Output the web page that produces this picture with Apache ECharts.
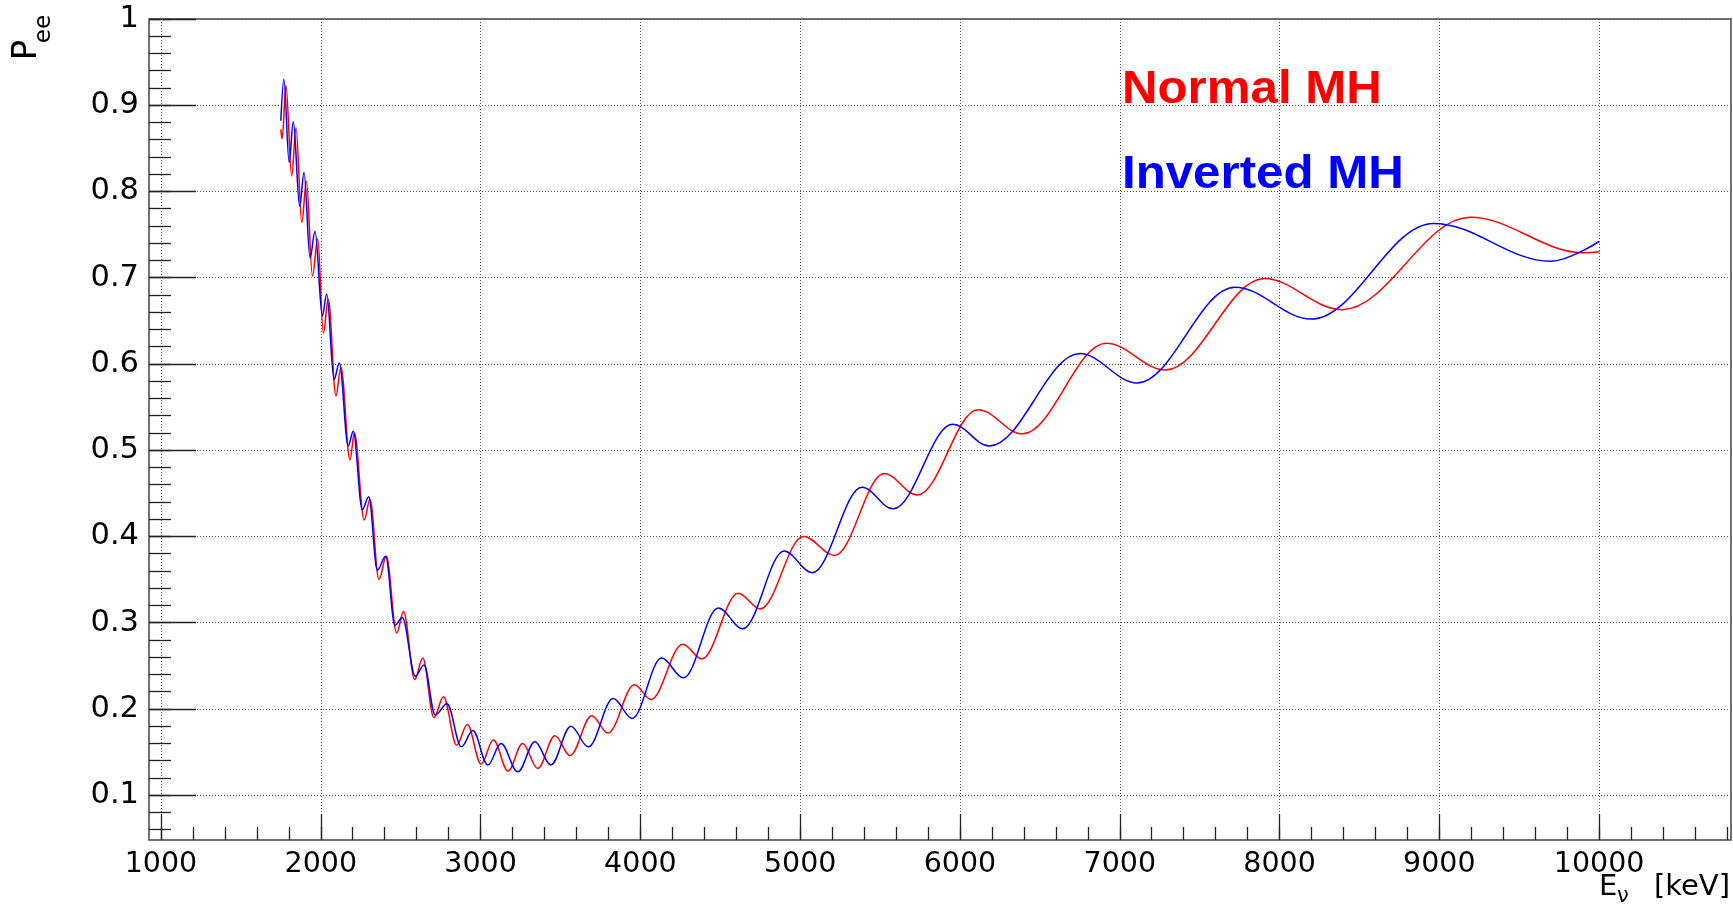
<!DOCTYPE html>
<html>
<head>
<meta charset="utf-8">
<title>Pee vs E</title>
<script src="https://cdn.jsdelivr.net/npm/echarts@6/dist/echarts.min.js"></script>
<style>
  html, body { margin: 0; padding: 0; background: #ffffff; }
  #chart { width: 1733px; height: 916px; }
</style>
</head>
<body>
<div id="chart"></div>
<script>
// Survival probability P_ee versus neutrino energy (keV), read at the
// turning points of each oscillating curve.
const normalE = [1750, 1758, 1782, 1818, 1845, 1881, 1910, 1948, 1981, 2016,
  2047, 2095, 2126, 2183, 2210, 2272, 2308, 2364, 2410, 2475,
  2518, 2588, 2638, 2708, 2768, 2850, 2917, 3003, 3080, 3172,
  3263, 3358, 3465, 3560, 3695, 3797, 3963, 4066, 4265, 4384,
  4613, 4749, 5021, 5215, 5526, 5733, 6113, 6390, 6915, 7285,
  7904, 8389, 9192, 9902, 10000];
const normalP = [0.872, 0.861, 0.923, 0.818, 0.874, 0.764, 0.812, 0.702, 0.745, 0.636,
  0.675, 0.563, 0.596, 0.489, 0.520, 0.419, 0.443, 0.350, 0.377, 0.288,
  0.313, 0.234, 0.259, 0.190, 0.214, 0.158, 0.182, 0.136, 0.164, 0.128,
  0.160, 0.131, 0.169, 0.146, 0.192, 0.172, 0.228, 0.211, 0.275, 0.258,
  0.334, 0.316, 0.400, 0.378, 0.473, 0.448, 0.547, 0.519, 0.624, 0.593,
  0.699, 0.663, 0.770, 0.729, 0.730];

const invertedE = [1750, 1769, 1802, 1828, 1868, 1895, 1933, 1964, 2010, 2037,
  2083, 2116, 2172, 2203, 2260, 2300, 2354, 2406, 2464, 2510,
  2592, 2646, 2716, 2790, 2880, 2951, 3045, 3128, 3233, 3340,
  3440, 3565, 3674, 3830, 3948, 4133, 4269, 4488, 4640, 4900,
  5075, 5387, 5581, 5954, 6183, 6750, 7108, 7720, 8198, 8962,
  9697, 10000];
const invertedP = [0.882, 0.930, 0.834, 0.881, 0.783, 0.822, 0.723, 0.754, 0.656, 0.681,
  0.582, 0.601, 0.505, 0.522, 0.431, 0.446, 0.361, 0.377, 0.297, 0.306,
  0.238, 0.251, 0.193, 0.206, 0.156, 0.175, 0.135, 0.160, 0.127, 0.162,
  0.135, 0.180, 0.156, 0.212, 0.189, 0.259, 0.236, 0.317, 0.293, 0.383,
  0.358, 0.457, 0.432, 0.530, 0.505, 0.612, 0.578, 0.689, 0.652, 0.763,
  0.719, 0.742];

// Axis tick labels
const xTickLabels = [1000, 2000, 3000, 4000, 5000, 6000, 7000, 8000, 9000, 10000];
const yTickLabels = [0.1, 0.2, 0.3, 0.4, 0.5, 0.6, 0.7, 0.8, 0.9, 1];

const X_MIN = 925, X_MAX = 10825;
const Y_MIN = 0.048, Y_MAX = 1.0;

// minor tick positions: 200 keV steps on x, 0.02 steps on y
const xMinorTicks = [];
for (let v = 1000; v <= X_MAX; v += 200) xMinorTicks.push(v);
const yMinorTicks = [];
for (let k = 3; k <= 50; k++) yMinorTicks.push(Math.round(k * 2) / 100);

function zip(xs, ys) { return xs.map((x, i) => [x, ys[i]]); }

const FONT = 'DejaVu Sans';
const tickColor = '#222';

const chart = echarts.init(document.getElementById('chart'), null, { renderer: 'canvas' });

chart.setOption({
  animation: false,
  backgroundColor: '#ffffff',
  grid: {
    left: 149, top: 19, width: 1582, height: 821,
    show: true, borderColor: '#444', borderWidth: 1.5,
    backgroundColor: 'transparent', containLabel: false
  },
  xAxis: [
    {
      type: 'value', min: X_MIN, max: X_MAX, position: 'bottom',
      axisLine: { show: false },
      axisTick: { show: true, inside: true, length: 26, customValues: xTickLabels,
        lineStyle: { color: tickColor, width: 1.3 } },
      axisLabel: { show: true, customValues: xTickLabels, margin: 10,
        fontFamily: FONT, fontSize: 28.5, color: '#000',
        formatter: v => String(v) },
      splitLine: { show: true, lineStyle: { color: '#555', width: 1, type: [1, 2] } }
    },
    {
      type: 'value', min: X_MIN, max: X_MAX, position: 'bottom',
      axisLine: { show: false },
      axisTick: { show: true, inside: true, length: 13, customValues: xMinorTicks,
        lineStyle: { color: tickColor, width: 1.3 } },
      axisLabel: { show: false },
      splitLine: { show: false }
    }
  ],
  yAxis: [
    {
      type: 'value', min: Y_MIN, max: Y_MAX, position: 'left',
      axisLine: { show: false },
      axisTick: { show: true, inside: true, length: 47, customValues: yTickLabels,
        lineStyle: { color: tickColor, width: 1.3 } },
      axisLabel: { show: true, customValues: yTickLabels, margin: 10,
        fontFamily: FONT, fontSize: 30.5, color: '#000',
        formatter: v => String(v) },
      splitLine: { show: true, lineStyle: { color: '#555', width: 1, type: [1, 2] } }
    },
    {
      type: 'value', min: Y_MIN, max: Y_MAX, position: 'left',
      axisLine: { show: false },
      axisTick: { show: true, inside: true, length: 22, customValues: yMinorTicks,
        lineStyle: { color: tickColor, width: 1.3 } },
      axisLabel: { show: false },
      splitLine: { show: false }
    }
  ],
  series: [
    {
      name: 'Normal MH', type: 'line', xAxisIndex: 0, yAxisIndex: 0,
      data: zip(normalE, normalP),
      showSymbol: false, smooth: 0.36, smoothMonotone: 'x',
      lineStyle: { color: '#ff0000', width: 1.5 }, z: 3
    },
    {
      name: 'Inverted MH', type: 'line', xAxisIndex: 0, yAxisIndex: 0,
      data: zip(invertedE, invertedP),
      showSymbol: false, smooth: 0.36, smoothMonotone: 'x',
      lineStyle: { color: '#0000ff', width: 1.5 }, z: 4
    }
  ],
  graphic: [
    // y-axis title P_ee (rotated)
    { type: 'text', x: 27.5, y: 50, rotation: Math.PI / 2,
      style: { text: 'P', fontFamily: FONT, fontSize: 34, fill: '#000',
        align: 'center', verticalAlign: 'middle' } },
    { type: 'text', x: 44, y: 29, rotation: Math.PI / 2,
      style: { text: 'ee', fontFamily: FONT, fontSize: 23, fill: '#000',
        align: 'center', verticalAlign: 'middle' } },
    // x-axis title E_nu [keV]
    { type: 'text', x: 1599, y: 887.5,
      style: { text: 'E', fontFamily: FONT, fontSize: 29, fill: '#000',
        align: 'left', verticalAlign: 'middle' } },
    { type: 'text', x: 1617, y: 897,
      style: { text: 'ν', fontFamily: FONT, fontSize: 21, fill: '#000',
        align: 'left', verticalAlign: 'middle' } },
    { type: 'text', x: 1730, y: 887.5,
      style: { text: '[keV]', fontFamily: FONT, fontSize: 29, fill: '#000',
        align: 'right', verticalAlign: 'middle' } },
    // curve labels
    { type: 'text', x: 1122, y: 90, scaleX: 1.07,
      style: { text: 'Normal MH', fontFamily: 'Liberation Sans', fontWeight: 'bold',
        fontSize: 46, fill: '#ff0000', align: 'left', verticalAlign: 'middle' } },
    { type: 'text', x: 1122, y: 175, scaleX: 1.07,
      style: { text: 'Inverted MH', fontFamily: 'Liberation Sans', fontWeight: 'bold',
        fontSize: 46, fill: '#0000ff', align: 'left', verticalAlign: 'middle' } }
  ]
});
</script>
</body>
</html>
